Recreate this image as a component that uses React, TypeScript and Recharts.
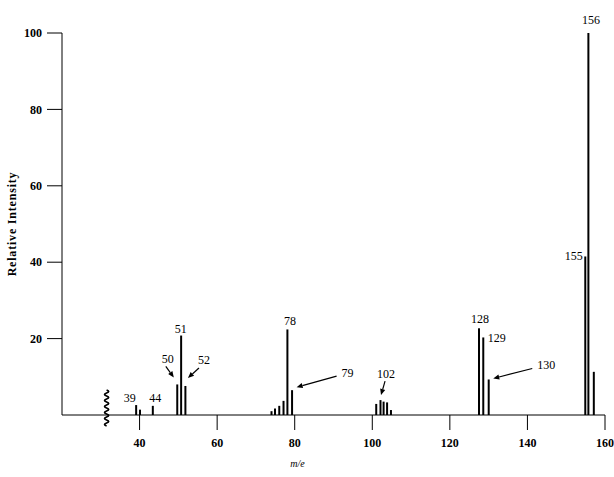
import React from "react";
import { BarChart, Bar, XAxis, YAxis, ReferenceDot, Label } from "recharts";

// m/e positions and relative intensities
const massCharge = [39, 40, 43.3, 49.6, 50.6, 51.7, 73.9, 74.8, 75.9, 77, 78, 79.2, 100.9, 102, 102.8, 103.7, 104.7, 127.4, 128.5, 129.9, 154.8, 155.6, 157];
const intensity = [2.6, 1.4, 2.4, 8.0, 20.8, 7.6, 1.0, 1.7, 2.4, 3.7, 22.4, 6.5, 2.9, 3.9, 3.5, 3.3, 1.3, 22.7, 20.3, 9.3, 41.5, 100, 11.3];

const xTicks = [40, 60, 80, 100, 120, 140, 160];
const yTicks = [20, 40, 60, 80, 100];

// annotated peaks
const peakNames = ["39", "44", "50", "51", "52", "78", "79", "102", "128", "129", "130", "155", "156"];
const peakAt = [39, 43.3, 49.6, 50.6, 51.7, 78, 79.2, 102, 127.4, 128.5, 129.9, 154.8, 155.6];

// where each label sits relative to its peak top, and optional arrow (tail, head)
const labelLayout: { dx: number; dy: number; arrow?: [number, number, number, number] }[] = [
    { dx: -6, dy: -7 },
    { dx: 3, dy: -8 },
    { dx: -9, dy: -25, arrow: [-11, -18, -3, -7] },
    { dx: 0, dy: -7 },
    { dx: 19, dy: -26, arrow: [14, -18, 3, -8] },
    { dx: 3, dy: -8 },
    { dx: 56, dy: -17, arrow: [45, -14, 5, -3] },
    { dx: 6, dy: -26, arrow: [5, -19, 1, -5] },
    { dx: 1.5, dy: -9 },
    { dx: 14, dy: 1 },
    { dx: 58, dy: -14, arrow: [44, -11, 5, -1] },
    { dx: -11, dy: 0 },
    { dx: 3, dy: -13 },
];

const breakAt = 31.5;

const data = massCharge.map((m, i) => ({ mz: m, value: intensity[i] }));

const serif = "'Liberation Serif', 'DejaVu Serif', serif";
const ink = "#000";

function Arrow({ x1, y1, x2, y2 }: { x1: number; y1: number; x2: number; y2: number }) {
    const a = Math.atan2(y2 - y1, x2 - x1);
    const len = 6;
    const w = 2.6;
    const bx = x2 - len * Math.cos(a);
    const by = y2 - len * Math.sin(a);
    const px = -Math.sin(a) * w;
    const py = Math.cos(a) * w;
    return (
        <g>
            <line x1={x1} y1={y1} x2={bx} y2={by} stroke={ink} strokeWidth={1.2} />
            <polygon points={`${x2},${y2} ${bx + px},${by + py} ${bx - px},${by - py}`} fill={ink} />
        </g>
    );
}

function peakLabel(i: number) {
    return (props: any) => {
        const { cx, cy } = props;
        const l = labelLayout[i];
        return (
            <g>
                <text x={cx + l.dx} y={cy + l.dy} textAnchor="middle" dominantBaseline="central" fontFamily={serif} fontSize={12} fill={ink}>
                    {peakNames[i]}
                </text>
                {l.arrow && <Arrow x1={cx + l.arrow[0]} y1={cy + l.arrow[1]} x2={cx + l.arrow[2]} y2={cy + l.arrow[3]} />}
            </g>
        );
    };
}

// wavy break mark on the m/e axis
function AxisBreak(props: any) {
    const { cx, cy } = props;
    let d = `M ${cx} ${cy - 25}`;
    for (let k = 0; k < 12; k++) {
        const y = cy - 25 + (k + 1) * 3;
        d += ` Q ${cx + (k % 2 === 0 ? 4 : -4)} ${y - 1.5} ${cx} ${y}`;
    }
    return <path d={d} stroke={ink} strokeWidth={1.8} fill="none" />;
}

export default function App() {
    return (
        <div style={{ position: "absolute", left: 0, top: 0, background: "#fff" }}>
            <BarChart width={614} height={477} data={data} margin={{ top: 33, right: 9, left: 0, bottom: 0 }}>
                <XAxis
                    dataKey="mz"
                    type="number"
                    domain={[20, 160]}
                    ticks={xTicks}
                    tickSize={15}
                    tickMargin={8}
                    height={62}
                    stroke={ink}
                    tick={{ fontFamily: serif, fontSize: 12, fontWeight: "bold", fill: ink }}
                    allowDataOverflow
                >
                    <Label
                        content={(p: any) => (
                            <text x={p.viewBox.x + p.viewBox.width / 2 - 36} y={p.viewBox.y + 52} textAnchor="middle" fontFamily={serif} fontStyle="italic" fontSize={10} fill={ink}>
                                m/e
                            </text>
                        )}
                    />
                </XAxis>
                <YAxis
                    type="number"
                    domain={[0, 100]}
                    ticks={yTicks}
                    tickSize={15}
                    tickMargin={5}
                    width={62}
                    stroke={ink}
                    tick={{ fontFamily: serif, fontSize: 12, fontWeight: "bold", fill: ink }}
                    allowDataOverflow
                >
                    <Label
                        content={(p: any) => {
                            const cx = 12;
                            const cy = p.viewBox.y + p.viewBox.height / 2;
                            return (
                                <text x={cx} y={cy} transform={`rotate(-90 ${cx} ${cy})`} textAnchor="middle" dominantBaseline="central" fontFamily={serif} fontSize={12} fontWeight="bold" letterSpacing={0.8} fill={ink}>
                                    Relative Intensity
                                </text>
                            );
                        }}
                    />
                </YAxis>
                <Bar dataKey="value" fill={ink} barSize={2} isAnimationActive={false} />
                <ReferenceDot x={breakAt} y={0} r={0} shape={AxisBreak} ifOverflow="visible" />
                {peakAt.map((m, i) => (
                    <ReferenceDot key={peakNames[i]} x={m} y={intensity[massCharge.indexOf(m)]} r={0} shape={peakLabel(i)} ifOverflow="visible" />
                ))}
            </BarChart>
        </div>
    );
}
